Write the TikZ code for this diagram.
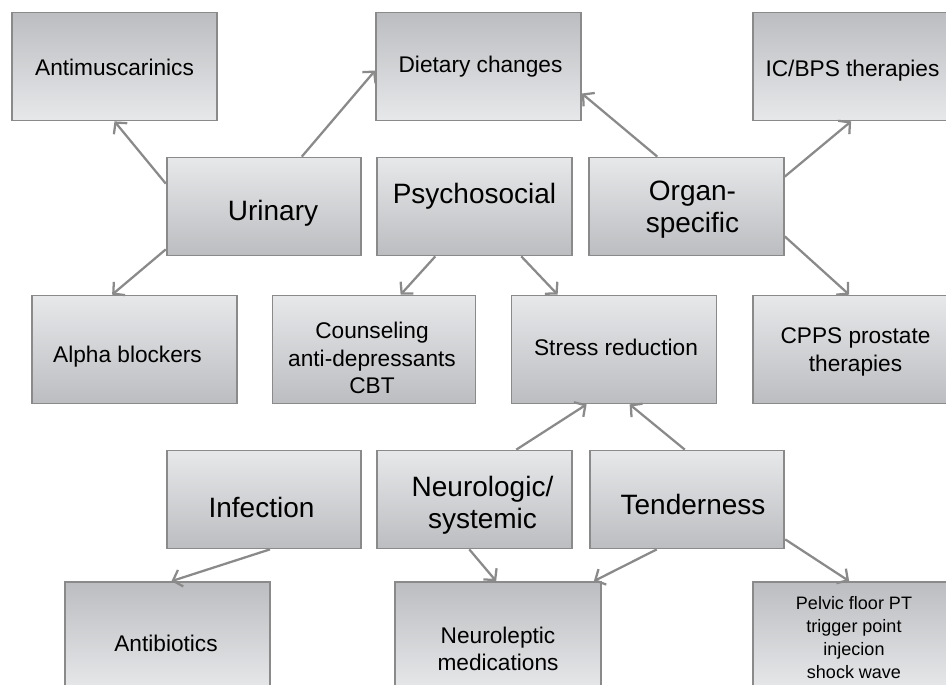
\documentclass[tikz,border=0pt]{standalone}
\usepackage{fontspec}
\setmainfont{Liberation Sans}
\usetikzlibrary{calc,arrows.meta}

\definecolor{boxdark}{HTML}{BCBDC0}
\definecolor{boxlight}{HTML}{E7E8EA}
\definecolor{edgegray}{HTML}{8A8A8A}

\tikzset{
  catbox/.style={draw=edgegray, line width=1.3pt, top color=boxlight, bottom color=boxdark,
    minimum width=146pt, minimum height=73.5pt},
  outbox/.style={draw=edgegray, line width=1.3pt, top color=boxdark, bottom color=boxlight,
    minimum width=153.75pt, minimum height=81pt},
  outboxup/.style={outbox, top color=boxlight, bottom color=boxdark},
  cattext/.style={align=center, inner sep=0pt, font=\fontsize{21}{24}\selectfont},
  outtext/.style={align=center, inner sep=0pt, font=\fontsize{17}{20.5}\selectfont},
  link/.style={draw=edgegray, line width=1.7pt, -{Straight Barb[length=6pt,width=13pt]}},
}

\begin{document}
\begin{tikzpicture}[x=0.75pt, y=-0.75pt]

      % page frame (pixel grid of the reference)
      \useasboundingbox (0,0) rectangle (946,685);

      % Top row of treatments
      \node[outbox] (antimusc) at (114.5,66.5) {};
      \node[outbox] (dietary)  at (478.5,66.5) {};
      \node[outbox] (icbps)    at (855.5,66.5) {};

      % First row of domains
      \node[catbox] (urinary) at (264,206.5)   {};
      \node[catbox] (psycho)  at (474.5,206.5) {};
      \node[catbox] (organ)   at (686.5,206.5) {};

      % Middle row of treatments (shaded the other way)
      \node[outboxup] (alpha)   at (134.5,349.5) {};
      \node[outboxup, minimum width=152.25pt] (counsel) at (374,349.5) {};
      \node[outboxup] (stress)  at (614,349.5)   {};
      \node[outboxup] (cpps)    at (855.5,349.5) {};

      % Second row of domains
      \node[catbox] (infection) at (264,499.5)   {};
      \node[catbox] (neuro)     at (474.5,499.5) {};
      \node[catbox] (tender)    at (687,499.5)   {};

      % Bottom row of treatments (cut by the page edge)
      \node[outbox] (antibio)  at (167.5,636) {};
      \node[outbox, minimum width=154.5pt] (neurolep) at (498,636) {};
      \node[outbox] (pelvic)   at (855.5,636) {};

      % Texts, nudged a little the way the slide had them
      \node[outtext] (antimuscText) at ($(antimusc)+(0,1)$) {Antimuscarinics};
      \node[outtext] (dietaryText)  at ($(dietary)+(2,0)$)  {Dietary changes};
      \node[outtext] (icbpsText)    at ($(icbps)+(-3,4)$)   {IC/BPS therapies};
      \node[cattext] (urinaryText)  at ($(urinary)+(9,6.5)$) {Urinary};
      \node[cattext] (psychoText)   at ($(psycho)+(0,-10)$) {Psychosocial};
      \node[cattext] (organText)    at ($(organ)+(6,3)$)    {Organ-\\specific};
      \node[outtext] (alphaText)    at ($(alpha)+(-7,7.5)$) {Alpha blockers};
      \node[outtext] (counselText)  at ($(counsel)+(-2,8.5)$) {Counseling\\anti-depressants\\CBT};
      \node[outtext] (stressText)   at ($(stress)+(2,-2.5)$) {Stress reduction};
      \node[outtext] (cppsText)     at ($(cpps)+(0,2.5)$)   {CPPS prostate\\therapies};
      \node[cattext] (infectionText) at ($(infection)+(-2.5,7.5)$) {Infection};
      \node[cattext] (neuroText)    at ($(neuro)+(8,6)$)    {Neurologic/\\systemic};
      \node[cattext] (tenderText)   at ($(tender)+(6,4.5)$) {Tenderness};
      \node[outtext] (antibioText)  at ($(antibio)+(-1.5,7)$) {Antibiotics};
      \node[outtext] (neurolepText) at ($(neurolep)+(0,13)$) {Neuroleptic\\medications};
      \node[outtext, font=\fontsize{13.5}{17.25}\selectfont] (pelvicText) at ($(pelvic)+(-1.5,1.5)$)
            {Pelvic floor PT\\trigger point\\injecion\\shock wave};

      % Urinary
      \draw[link] ($(urinary.north west)+(0,27)$) -- (antimusc.south);
      \draw[link] ($(urinary.north west)+(136,0)$) -- ($(dietary.west)+(0,4)$);
      \draw[link] ($(urinary.south west)+(0,-7)$) -- ($(alpha.north west)+(81,0)$);

      % Organ-specific
      \draw[link] ($(organ.north west)+(69,0)$) -- ($(dietary.east)+(0,27)$);
      \draw[link] ($(organ.north east)+(0,20)$) -- ($(icbps.south west)+(99,0)$);
      \draw[link] ($(organ.south east)+(0,-20)$) -- ($(cpps.north west)+(97,0)$);

      % Psychosocial
      \draw[link] ($(psycho.south west)+(59,0)$) -- ($(counsel.north west)+(129,0)$);
      \draw[link] ($(psycho.south west)+(145,0)$) -- ($(stress.north west)+(47,0)$);

      % lower domains up to stress reduction
      \draw[link] ($(neuro.north west)+(140,0)$) -- ($(stress.south west)+(76,0)$);
      \draw[link] ($(tender.north west)+(96,0)$) -- ($(stress.south west)+(119,0)$);

      % lower domains down to their treatments
      \draw[link] ($(infection.south)+(6,0)$) -- ($(antibio.north)+(4,0)$);
      \draw[link] ($(neuro.south west)+(93,0)$) -- ($(neurolep.north west)+(102,0)$);
      \draw[link] ($(tender.south west)+(68,0)$) -- ($(neurolep.north east)+(-8,0)$);
      \draw[link] ($(tender.south east)+(0,-10)$) -- ($(pelvic.north west)+(97,0)$);

    \end{tikzpicture}
\end{document}
